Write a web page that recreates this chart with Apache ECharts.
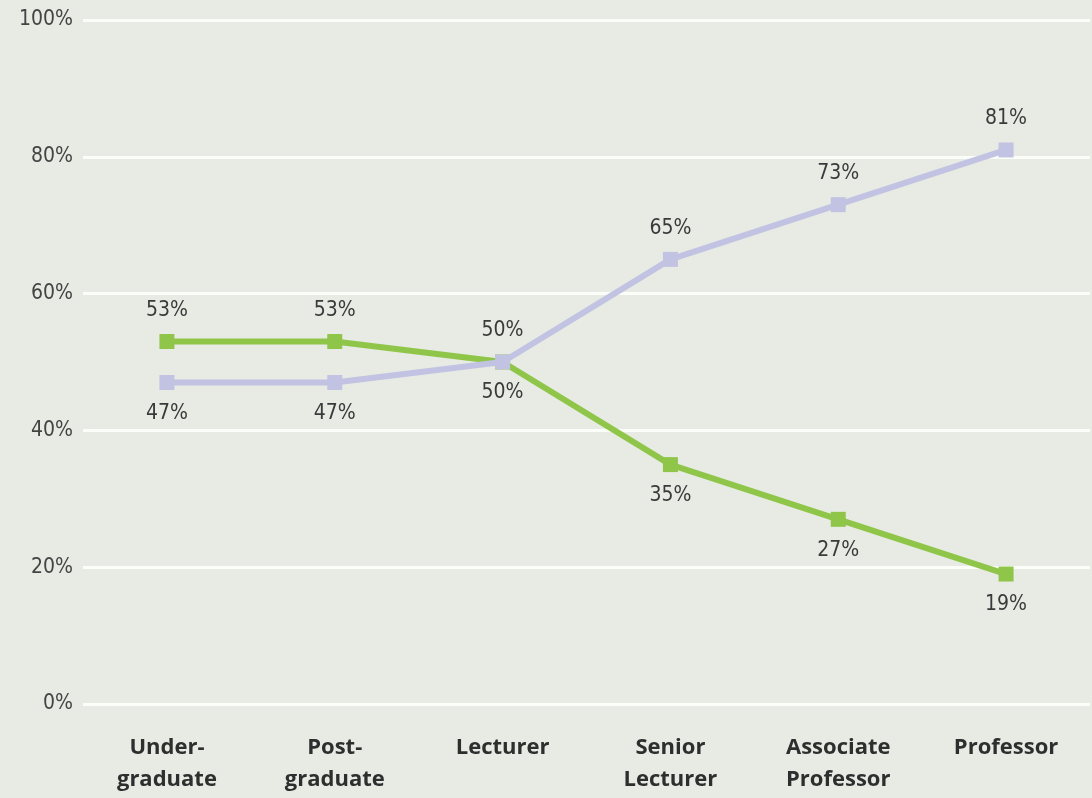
<!DOCTYPE html>
<html>
<head>
<meta charset="utf-8">
<script src="https://cdn.jsdelivr.net/npm/echarts@6/dist/echarts.min.js"></script>
<style>
  html,body{margin:0;padding:0;background:#e7ebe4;}
  #chart{width:1092px;height:798px;}
</style>
</head>
<body>
<div id="chart"></div>
<script>
// categories and values (%)
var categories = ['Under-\ngraduate', 'Post-\ngraduate', 'Lecturer', 'Senior\nLecturer', 'Associate\nProfessor', 'Professor'];
var greenValues = [53, 53, 50, 35, 27, 19];
var purpleValues = [47, 47, 50, 65, 73, 81];
// which side each label sits on
var greenLabelPos = ['top', 'top', 'bottom', 'bottom', 'bottom', 'bottom'];
var purpleLabelPos = ['bottom', 'bottom', 'top', 'top', 'top', 'top'];

var chart = echarts.init(document.getElementById('chart'));

function buildData(values, positions) {
    return values.map(function (v, i) {
        return {value: v, label: {position: positions[i]}};
    });
}

var labelStyle = {
    show: true,
    distance: 13,
    formatter: '{c}%',
    color: '#3a3a3a',
    fontSize: 21,
    fontFamily: 'DejaVu Sans Condensed'
};

var option = {
    backgroundColor: '#e7ebe4',
    animation: false,
    grid: {left: 83, right: 2, top: 20, bottom: 94},
    xAxis: {
        type: 'category',
        data: categories,
        boundaryGap: true,
        axisLine: {show: false},
        axisTick: {show: false},
        axisLabel: {
            color: '#2e2e2e',
            fontSize: 22,
            fontWeight: 'bold',
            fontFamily: 'Open Sans',
            lineHeight: 32,
            margin: 28
        }
    },
    yAxis: {
        type: 'value',
        min: 0,
        max: 100,
        interval: 20,
        axisLine: {show: false},
        axisTick: {show: false},
        axisLabel: {
            formatter: '{value}%',
            color: '#444',
            fontSize: 21,
            fontFamily: 'DejaVu Sans Condensed',
            margin: 10
        },
        splitLine: {lineStyle: {color: '#fbfdf8', width: 3}}
    },
    series: [
        {
            name: 'green',
            type: 'line',
            data: buildData(greenValues, greenLabelPos),
            symbol: 'rect',
            symbolSize: 15,
            z: 3,
            lineStyle: {color: '#8fc64a', width: 6},
            itemStyle: {color: '#8fc64a'},
            label: labelStyle
        },
        {
            name: 'purple',
            type: 'line',
            data: buildData(purpleValues, purpleLabelPos),
            symbol: 'rect',
            symbolSize: 15,
            z: 4,
            lineStyle: {color: '#c2c3e2', width: 6},
            itemStyle: {color: '#c2c3e2'},
            label: labelStyle
        }
    ]
};

chart.setOption(option);
</script>
</body>
</html>
